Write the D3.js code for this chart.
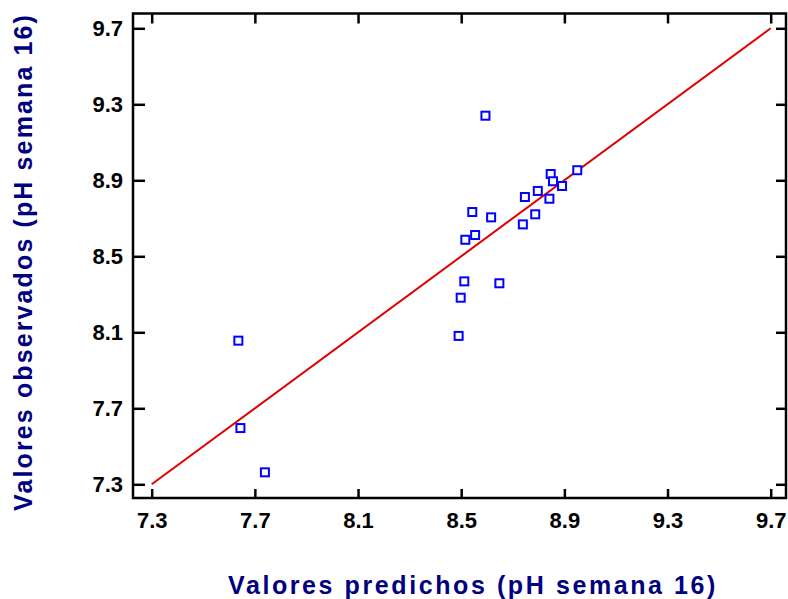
<!DOCTYPE html>
<html><head><meta charset="utf-8">
<script src="https://cdn.jsdelivr.net/npm/d3@7"></script>
<style>body{margin:0;background:#fff}</style>
</head><body>
<svg id="c" width="788" height="599"></svg>
<script>
const predicted = [7.636, 7.644, 7.739, 8.594, 8.847, 8.950, 8.856, 8.891, 8.797, 8.747, 8.842, 8.543, 8.616, 8.787, 8.739, 8.554, 8.516, 8.512, 8.648, 8.498, 8.490];
const observed  = [8.056, 7.596, 7.363, 9.240, 8.933, 8.953, 8.895, 8.870, 8.844, 8.812, 8.803, 8.733, 8.705, 8.721, 8.668, 8.612, 8.587, 8.368, 8.358, 8.282, 8.081];
const tickValues = [7.3, 7.7, 8.1, 8.5, 8.9, 9.3, 9.7];
const fitLine = [[7.3, 7.3], [9.7, 9.7]];
const xTitle = "Valores predichos (pH semana 16)";
const yTitle = "Valores observados (pH semana 16)";

const svg = d3.select("#c");
const L = 133, R = 786, T = 13.5, B = 498;
const x = d3.scaleLinear().domain([7.3, 9.7]).range([151.7, 770.7]);
const y = d3.scaleLinear().domain([7.3, 9.7]).range([484.3, 28.3]);
const fmt = d3.format(".1f");

const gb = svg.append("g").attr("transform", `translate(0,${B})`)
  .call(d3.axisBottom(x).tickValues(tickValues).tickFormat(fmt).tickSizeInner(-9).tickSizeOuter(0).tickPadding(14));
const gt = svg.append("g").attr("transform", `translate(0,${T})`)
  .call(d3.axisTop(x).tickValues(tickValues).tickFormat("").tickSizeInner(-10).tickSizeOuter(0));
const gl = svg.append("g").attr("transform", `translate(${L},0)`)
  .call(d3.axisLeft(y).tickValues(tickValues).tickFormat(fmt).tickSizeInner(-12).tickSizeOuter(0).tickPadding(10));
const gr = svg.append("g").attr("transform", `translate(${R},0)`)
  .call(d3.axisRight(y).tickValues(tickValues).tickFormat("").tickSizeInner(-10).tickSizeOuter(0));

[gb, gt, gl, gr].forEach(g => {
  g.select(".domain").remove();
  g.selectAll(".tick line").attr("stroke", "#000").attr("stroke-width", 2.5);
  g.selectAll(".tick text").attr("fill", "#000").attr("font-family", "Liberation Sans, Arial, sans-serif")
    .attr("font-weight", "bold").attr("font-size", 22);
});
gb.selectAll(".tick text").attr("dy", "0.71em");

svg.append("rect").attr("x", L).attr("y", T).attr("width", R - L).attr("height", B - T)
  .attr("fill", "none").attr("stroke", "#000").attr("stroke-width", 2.5);

svg.append("line")
  .attr("x1", x(fitLine[0][0])).attr("y1", y(fitLine[0][1]))
  .attr("x2", x(fitLine[1][0])).attr("y2", y(fitLine[1][1]))
  .attr("stroke", "#e00000").attr("stroke-width", 2);

const s = 8;
svg.append("g").selectAll("rect").data(predicted.map((p, i) => [p, observed[i]])).join("rect")
  .attr("x", d => x(d[0]) - s / 2).attr("y", d => y(d[1]) - s / 2)
  .attr("width", s).attr("height", s)
  .attr("fill", "#fff").attr("stroke", "#0000ff").attr("stroke-width", 2);

const xt = svg.append("text").attr("x", 473).attr("y", 594).attr("text-anchor", "middle")
  .attr("font-family", "Liberation Sans, Arial, sans-serif").attr("font-weight", "bold").attr("font-size", 25)
  .attr("fill", "#000080").text(xTitle);
const yt = svg.append("text").attr("transform", "translate(32,262) rotate(-90)").attr("text-anchor", "middle")
  .attr("font-family", "Liberation Sans, Arial, sans-serif").attr("font-weight", "bold").attr("font-size", 25)
  .attr("fill", "#000080").text(yTitle);
function fit(t, w) {
  const n = t.text().length;
  const cur = t.node().getComputedTextLength();
  t.attr("letter-spacing", ((w - cur) / n) + "px");
}
fit(xt, 490);
fit(yt, 498);
</script>
</body></html>
